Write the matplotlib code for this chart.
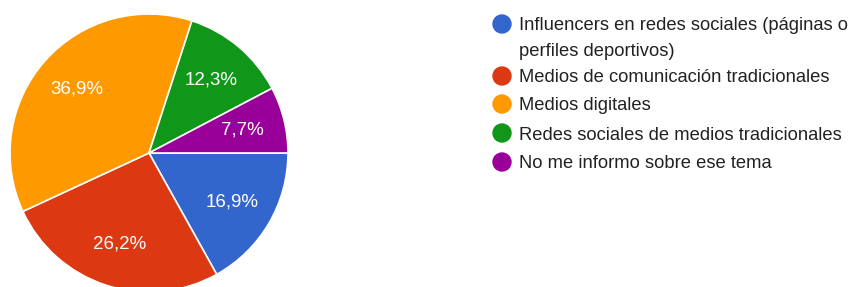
import numpy as np
import matplotlib
matplotlib.use("Agg")
import matplotlib.pyplot as plt
from matplotlib.patches import Ellipse

plt.rcParams["font.family"] = ["Liberation Sans", "DejaVu Sans"]

categories = ["Influencers en redes sociales (páginas o\nperfiles deportivos)",
              "Medios de comunicación tradicionales",
              "Medios digitales",
              "Redes sociales de medios tradicionales",
              "No me informo sobre ese tema"]
shares = [16.9, 26.2, 36.9, 12.3, 7.7]
pct_labels = ["16,9%", "26,2%", "36,9%", "12,3%", "7,7%"]
colors = ["#3366cc", "#dc3912", "#ff9900", "#109618", "#990099"]

W, H = 851, 287
fig = plt.figure(figsize=(W / 100, H / 100), dpi=100)

# pie: centre (149, 153) px from top, radius 139 px
cx, cy, r = 149, H - 153, 139
ax = fig.add_axes([(cx - r) / W, (cy - r) / H, 2 * r / W, 2 * r / H])
wedges, _ = ax.pie(shares, colors=colors, startangle=0, counterclock=False,
                   wedgeprops=dict(edgecolor="white", linewidth=1.2))
ax.set_xlim(-1, 1); ax.set_ylim(-1, 1)
ax.set_aspect("auto")
ax.axis("off")

for w, lab in zip(wedges, pct_labels):
    mid = np.deg2rad((w.theta1 + w.theta2) / 2)
    ax.text(0.69 * np.cos(mid), 0.69 * np.sin(mid), lab, color="white",
            fontsize=13.5, ha="center", va="center")

# legend drawn by hand (px from top)
row_y = [24, 76, 104, 133, 162]
wrap_gap = 26
for yy, lab, c in zip(row_y, categories, colors):
    fig.add_artist(Ellipse((502 / W, 1 - yy / H), 18 / W, 18 / H,
                           transform=fig.transFigure, color=c))
    for k, line in enumerate(lab.split("\n")):
        fig.text(519 / W, 1 - (yy + k * wrap_gap) / H, line, fontsize=13.2,
                 va="center_baseline", color="#222222")

fig.savefig("out.png", dpi=100)
